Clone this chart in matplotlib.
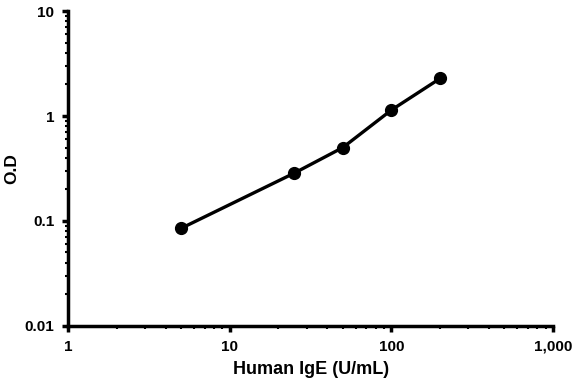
import matplotlib.pyplot as plt
from matplotlib.ticker import FixedLocator, LogLocator, NullFormatter

conc = [5, 25, 50, 100, 200]
od = [0.085, 0.285, 0.50, 1.14, 2.28]

x_ticks = [1, 10, 100, 1000]
x_labels = ["1", "10", "100", "1,000"]
y_ticks = [0.01, 0.1, 1, 10]
y_labels = ["0.01", "0.1", "1", "10"]

plt.rcParams['font.family'] = ['Liberation Sans', 'DejaVu Sans']
plt.rcParams['font.weight'] = 'bold'

fig = plt.figure(figsize=(5.79, 3.85), dpi=100)
ax = fig.add_axes([0.118, 0.154, 0.837, 0.817])

ax.plot(conc, od, color='black', lw=2.4, marker='o', markersize=8.5)

ax.set_xscale('log')
ax.set_yscale('log')
ax.set_xlim(1, 1000)
ax.set_ylim(0.01, 10)

ax.xaxis.set_major_locator(FixedLocator(x_ticks))
ax.set_xticklabels(x_labels)
ax.yaxis.set_major_locator(FixedLocator(y_ticks))
ax.set_yticklabels(y_labels)
ax.xaxis.set_minor_locator(LogLocator(base=10, subs=range(2, 10)))
ax.yaxis.set_minor_locator(LogLocator(base=10, subs=range(2, 10)))
ax.xaxis.set_minor_formatter(NullFormatter())
ax.yaxis.set_minor_formatter(NullFormatter())

for s in ['top', 'right']:
    ax.spines[s].set_visible(False)
for s in ['left', 'bottom']:
    ax.spines[s].set_linewidth(2.5)

ax.tick_params(which='major', length=4, width=2.5, labelsize=11, pad=6)
ax.tick_params(which='minor', length=2, width=1.5)

ax.set_xlabel('Human IgE (U/mL)', fontsize=13, fontweight='bold')
ax.set_ylabel('O.D', fontsize=12.5, fontweight='bold')
ax.xaxis.set_label_coords(0.5, -0.14)
ax.yaxis.set_label_coords(-0.117, 0.5)
ax.xaxis.label.set_va('center')
ax.yaxis.label.set_va('center')

fig.savefig('out.png', dpi=100)
